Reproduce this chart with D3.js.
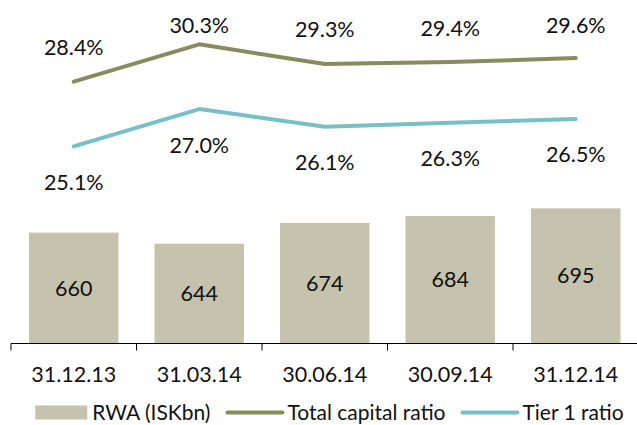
<!DOCTYPE html>
<html>
<head>
<meta charset="utf-8">
<script src="https://cdn.jsdelivr.net/npm/d3@7"></script>
<style>
  html, body { margin: 0; padding: 0; background: #fff; }
  svg { display: block; font-family: Lato, "Open Sans", sans-serif; }
</style>
</head>
<body>
<svg id="chart" width="637" height="425"></svg>
<script>
// Quarter-end dates
const categories = ["31.12.13", "31.03.14", "30.06.14", "30.09.14", "31.12.14"];
// Risk-weighted assets, ISK billions
const rwa = [660, 644, 674, 684, 695];
// Capital ratios, percent
const totalCapitalRatio = [28.4, 30.3, 29.3, 29.4, 29.6];
const tier1Ratio = [25.1, 27.0, 26.1, 26.3, 26.5];
const seriesNames = ["RWA (ISKbn)", "Total capital ratio", "Tier 1 ratio"];

const colors = { bar: "#c5c2ad", total: "#878b5e", tier1: "#77c0c8", text: "#111" };

const svg = d3.select("#chart");
const plot = { left: 11, right: 638.5, bottom: 343.5 };
const fontSize = 21.5;
const legendFontSize = 21;

const x = d3.scaleBand()
  .domain(categories)
  .range([plot.left, plot.right])
  .paddingInner(0.287)
  .paddingOuter(0.1435);

// Primary axis for the bars (not shown), secondary axis for the ratios (not shown)
const yBar = d3.scaleLinear().domain([500, 1000]).range([plot.bottom, -3]);
const yPct = d3.scaleLinear().domain([15, 32]).range([344.5, 11]);

// Bars
const barData = categories.map((c, i) => ({ c, v: rwa[i] }));
svg.append("g").selectAll("rect")
  .data(barData)
  .join("rect")
  .attr("x", d => x(d.c))
  .attr("width", x.bandwidth())
  .attr("y", d => yBar(d.v))
  .attr("height", d => plot.bottom - yBar(d.v))
  .attr("fill", colors.bar);

svg.append("g").selectAll("text")
  .data(barData)
  .join("text")
  .attr("x", d => x(d.c) + x.bandwidth() / 2)
  .attr("y", d => (yBar(d.v) + plot.bottom) / 2)
  .attr("dy", "0.35em")
  .attr("text-anchor", "middle")
  .attr("font-size", fontSize)
  .attr("fill", colors.text)
  .text(d => d.v);

// Lines
const cx = c => x(c) + x.bandwidth() / 2;
const line = d3.line().x(d => cx(d.c)).y(d => yPct(d.v));

const lineSeries = [
  { key: "total", values: totalCapitalRatio, color: colors.total, above: true },
  { key: "tier1", values: tier1Ratio, color: colors.tier1, above: false }
];

lineSeries.forEach(s => {
  const pts = categories.map((c, i) => ({ c, v: s.values[i] }));
  svg.append("path")
    .datum(pts)
    .attr("d", line)
    .attr("fill", "none")
    .attr("stroke", s.color)
    .attr("stroke-width", 4)
    .attr("stroke-linejoin", "round")
    .attr("stroke-linecap", "round");

  svg.append("g").selectAll("text")
    .data(pts)
    .join("text")
    .attr("x", d => cx(d.c))
    .attr("y", d => {
      const py = yPct(d.v);
      // labels above the upper line stay inside the plot's top edge
      return s.above ? Math.max(py - 34, 25) : py + 36;
    })
    .attr("dy", "0.35em")
    .attr("text-anchor", "middle")
    .attr("font-size", fontSize)
    .attr("fill", colors.text)
    .text(d => d.v.toFixed(1) + "%");
});

// Category axis: labels centred in each band, ticks on band boundaries
const axis = svg.append("g").attr("transform", `translate(0,${plot.bottom})`);
axis.append("line")
  .attr("x1", plot.left).attr("x2", plot.right)
  .attr("stroke", "#000").attr("stroke-width", 1);
const boundaries = categories.map(c => x(c) - x.step() * x.paddingInner() / 2)
  .concat([plot.right]);
axis.selectAll(".tick-mark")
  .data(boundaries)
  .join("line")
  .attr("class", "tick-mark")
  .attr("x1", d => d).attr("x2", d => d)
  .attr("y1", 0).attr("y2", 7)
  .attr("stroke", "#000").attr("stroke-width", 1);
axis.selectAll(".tick-label")
  .data(categories)
  .join("text")
  .attr("class", "tick-label")
  .attr("x", d => cx(d))
  .attr("y", 31)
  .attr("dy", "0.35em")
  .attr("text-anchor", "middle")
  .attr("font-size", fontSize)
  .attr("fill", colors.text)
  .text(d => d);

// Legend
const legend = svg.append("g");
const legendY = 412.5;
let lx = 0;
const items = [
  { name: seriesNames[0], type: "bar", color: colors.bar },
  { name: seriesNames[1], type: "line", color: colors.total },
  { name: seriesNames[2], type: "line", color: colors.tier1 }
];
items.forEach((it, i) => {
  if (i > 0) lx += 17;
  if (it.type === "bar") {
    legend.append("rect")
      .attr("x", lx).attr("y", legendY - 7)
      .attr("width", 52).attr("height", 14)
      .attr("fill", it.color);
  } else {
    legend.append("line")
      .attr("x1", lx).attr("x2", lx + 55)
      .attr("y1", legendY).attr("y2", legendY)
      .attr("stroke", it.color).attr("stroke-width", 4)
      .attr("stroke-linecap", "round");
  }
  lx += (it.type === "bar" ? 52 : 55) + 5;
  const t = legend.append("text")
    .attr("x", lx).attr("y", legendY)
    .attr("dy", "0.35em")
    .attr("font-size", legendFontSize)
    .attr("fill", colors.text)
    .text(it.name);
  lx += t.node().getComputedTextLength();
});
legend.attr("transform", `translate(${329.5 - lx / 2},0)`);
</script>
</body>
</html>
